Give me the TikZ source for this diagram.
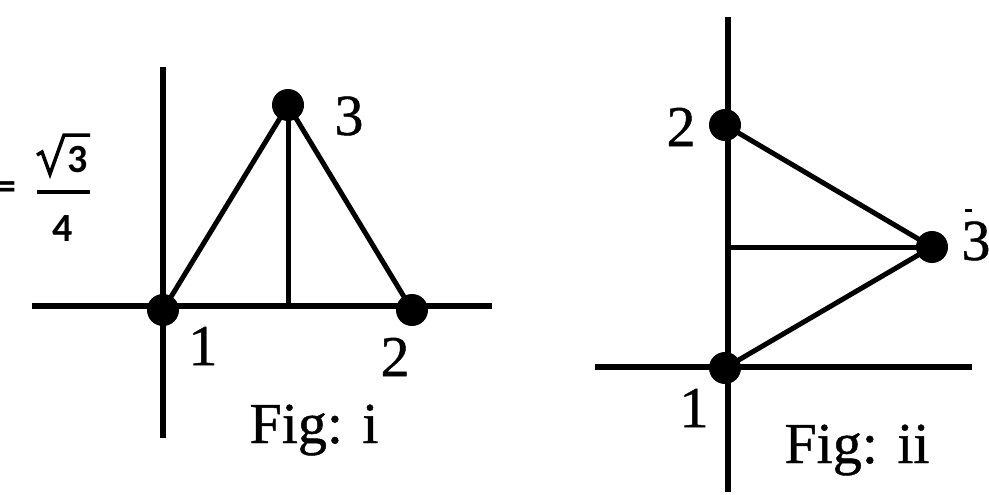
\documentclass[tikz,border=0pt]{standalone}
\usepackage{fontspec}
\setmainfont{Liberation Serif}[FakeBold=0.8]
\newfontfamily\fracfont{Carlito}
\begin{document}
\begin{tikzpicture}[x=1pt,y=-1pt,
  axis/.style={line width=5.5pt},
  edge/.style={line width=5pt},
  dot/.style={circle,fill=black,inner sep=0pt,minimum size=32pt},
  lbl/.style={font=\fontsize{58}{60}\selectfont,inner sep=0pt},
  fraclbl/.style={font=\fracfont\bfseries\fontsize{40}{44}\selectfont,inner sep=0pt}]
\useasboundingbox (0,0) rectangle (989,495);

% ---------- fraction at left ----------
\node[fraclbl,anchor=east] (eq) at (17,191) {=};
\node[fraclbl] (num) at (78,160) {3};
\node[fraclbl] (den) at (63,229) {4};
\draw[line width=3.5pt,line join=miter] (37,155) -- (42,152) -- (50,174) -- (64,135) -- (90,135);
\draw[line width=4pt] (37,192) -- (90,192);

% ---------- Fig i ----------
\coordinate (a1t) at (163,67);
\coordinate (a1b) at (163,438);
\coordinate (a1l) at (32,306);
\coordinate (a1r) at (492,306);
\draw[axis] (a1t) -- (a1b);
\draw[axis] (a1l) -- (a1r);
\node[dot] (i1) at (163,310) {};
\node[dot] (i2) at (412,310) {};
\node[dot] (i3) at (288,105) {};
\coordinate (i4) at (288,306);
\draw[edge,line join=round] (i1.center) -- (i3.center) -- (i2.center);
\draw[edge] (i3.center) -- (i4);
\node[lbl] (l3) at (349,116) {3};
\node[lbl] (l1) at (203,346) {1};
\node[lbl] (l2) at (395,357) {2};
\node[lbl,anchor=base] (figi) at (314,443) {Fig: i};

% ---------- Fig ii ----------
\coordinate (a2t) at (728,17);
\coordinate (a2b) at (728,492);
\coordinate (a2l) at (595,367);
\coordinate (a2r) at (972,367);
\draw[axis] (a2t) -- (a2b);
\draw[axis] (a2l) -- (a2r);
\node[dot] (j1) at (725,368) {};
\node[dot] (j2) at (725,125) {};
\node[dot] (j3) at (932,247) {};
\coordinate (j4) at (728,247);
\draw[edge,line join=round] (j2.center) -- (j3.center) -- (j1.center);
\draw[edge] (j4) -- (j3.center);
\node[lbl] (m2) at (681,127) {2};
\node[lbl] (m1) at (694,408) {1};
\node[lbl] (m3) at (976,241) {3};
\draw[line width=3pt] (965,210) -- (972,210);
\node[lbl,anchor=base] (figii) at (857,463) {Fig: ii};
\end{tikzpicture}
\end{document}
